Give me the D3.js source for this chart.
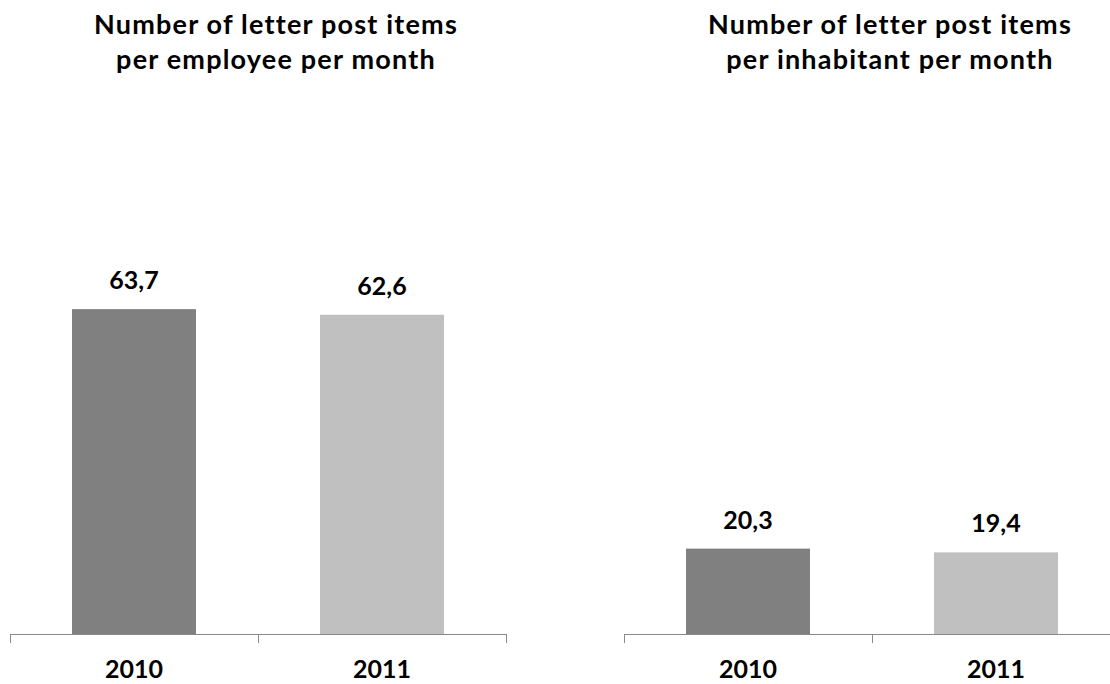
<!DOCTYPE html>
<html>
<head>
<meta charset="utf-8">
<script src="https://cdn.jsdelivr.net/npm/d3@7"></script>
<style>
  html, body { margin: 0; padding: 0; background: #ffffff; }
  svg { display: block; }
  text { font-family: Lato, "Open Sans", sans-serif; font-weight: 700; fill: #000; }
</style>
</head>
<body>
<svg id="chart" width="1110" height="684"></svg>
<script>
// Years shown on both panels
const years = ["2010", "2011"];

// Letter post items per employee per month
const perEmployee = [63.7, 62.6];

// Letter post items per inhabitant per month
const perInhabitant = [20.3, 19.4];

// Panel titles (two lines each)
const titleEmployee = ["Number of letter post items", "per employee per month"];
const titleInhabitant = ["Number of letter post items", "per inhabitant per month"];

const barColors = ["#808080", "#c0c0c0"];

const svg = d3.select("#chart");
const fmt = v => d3.format(".1f")(v).replace(".", ",");

const baseY = 634;
const topY = 226;

function panel(opts) {
  const g = svg.append("g");
  const x = d3.scaleBand().domain(years).range([opts.x0, opts.x1]).padding(0);
  const y = d3.scaleLinear().domain([0, opts.yMax]).range([baseY, topY]);
  const bw = x.bandwidth();
  const data = years.map((yr, i) => ({ yr, v: opts.values[i], c: barColors[i] }));

  // Bars: half the category width, centred in each category
  g.selectAll("rect.bar").data(data).join("rect")
    .attr("class", "bar")
    .attr("x", d => x(d.yr) + bw / 4)
    .attr("width", bw / 2)
    .attr("y", d => y(d.v))
    .attr("height", d => y(0) - y(d.v))
    .attr("fill", d => d.c);

  // Value labels above bars
  g.selectAll("text.val").data(data).join("text")
    .attr("class", "val")
    .attr("x", d => x(d.yr) + bw / 2)
    .attr("y", d => y(d.v) - 20)
    .attr("text-anchor", "middle")
    .attr("font-size", 25)
    .text(d => fmt(d.v));

  // Category axis: baseline with ticks between categories
  g.append("line")
    .attr("x1", opts.x0).attr("x2", opts.x1)
    .attr("y1", baseY + 0.5).attr("y2", baseY + 0.5)
    .attr("stroke", "#898989").attr("stroke-width", 1);
  const tickXs = years.map(yr => x(yr)).concat([x(years[years.length - 1]) + bw]);
  g.selectAll("line.tick").data(tickXs).join("line")
    .attr("class", "tick")
    .attr("x1", d => Math.round(d) + 0.5).attr("x2", d => Math.round(d) + 0.5)
    .attr("y1", baseY).attr("y2", baseY + 9)
    .attr("stroke", "#898989").attr("stroke-width", 1);

  g.selectAll("text.cat").data(years).join("text")
    .attr("class", "cat")
    .attr("x", d => x(d) + bw / 2)
    .attr("y", 678)
    .attr("text-anchor", "middle")
    .attr("font-size", 25)
    .text(d => d);

  // Title
  g.selectAll("text.title").data(opts.title).join("text")
    .attr("class", "title")
    .attr("x", opts.titleX)
    .attr("y", (d, i) => 34 + i * 35)
    .attr("text-anchor", "middle")
    .attr("font-size", 27)
    .attr("letter-spacing", 1.2)
    .text(d => d);
}

panel({ x0: 10, x1: 506, yMax: 80, values: perEmployee, title: titleEmployee, titleX: 276 });
panel({ x0: 624, x1: 1120, yMax: 97, values: perInhabitant, title: titleInhabitant, titleX: 890 });
</script>
</body>
</html>
